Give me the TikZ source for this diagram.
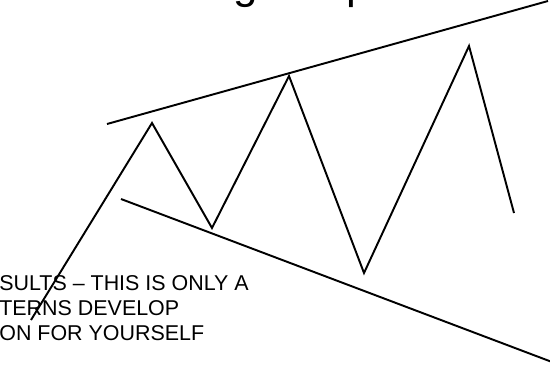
\documentclass[tikz,border=0pt]{standalone}
\usepackage{fontspec}
\setmainfont{Liberation Sans}
\usepackage{xcolor}
\definecolor{ink}{HTML}{000000}
\usepackage{tikz}
\usetikzlibrary{positioning,calc}
\tikzset{
  trend/.style={draw=ink, line width=1.1pt},
  swing/.style={draw=ink, line width=1.1pt, line join=miter},
  note/.style={font=\fontsize{12.2pt}{14pt}\selectfont, anchor=base west, inner sep=0pt, text=ink},
  title/.style={font=\fontsize{25pt}{30pt}\selectfont, inner sep=0pt, text=ink}
}

\begin{document}
\begin{tikzpicture}[x=0.02cm, y=-0.02cm]
  \useasboundingbox (0,0) rectangle (550,365);
  \clip (0,0) rectangle (550,365);
  % title, cut off by the top edge
  \node[title, anchor=base] (titleg) at (246,-2) {g};
  \node[title, anchor=base west] (titlep) at (346,-2) {p};
  % trend lines
  \coordinate (upA) at (107,124);
  \coordinate (upB) at (548,1);
  \coordinate (loA) at (121,199);
  \coordinate (loB) at (552,362);
  \draw[trend] (upA) -- (upB);
  \draw[trend] (loA) -- (loB);
  % price swings
  \coordinate (start) at (31,320);
  \coordinate (peakA) at (152,123);
  \coordinate (lowA) at (212,228);
  \coordinate (peakB) at (289,76);
  \coordinate (lowB) at (364,273);
  \coordinate (peakC) at (469,46);
  \coordinate (finish) at (514,213);
  \draw[swing] (start) -- (peakA) -- (lowA) -- (peakB) -- (lowB) -- (peakC) -- (finish);
  % note, cut off by the left edge
  \node[note] (noteA) at (-1,290) {SULTS -- THIS IS ONLY A};
  \node[note] (noteB) at (-1,315) {TERNS DEVELOP};
  \node[note] (noteC) at (-1,340) {ON FOR YOURSELF};
\end{tikzpicture}
\end{document}
